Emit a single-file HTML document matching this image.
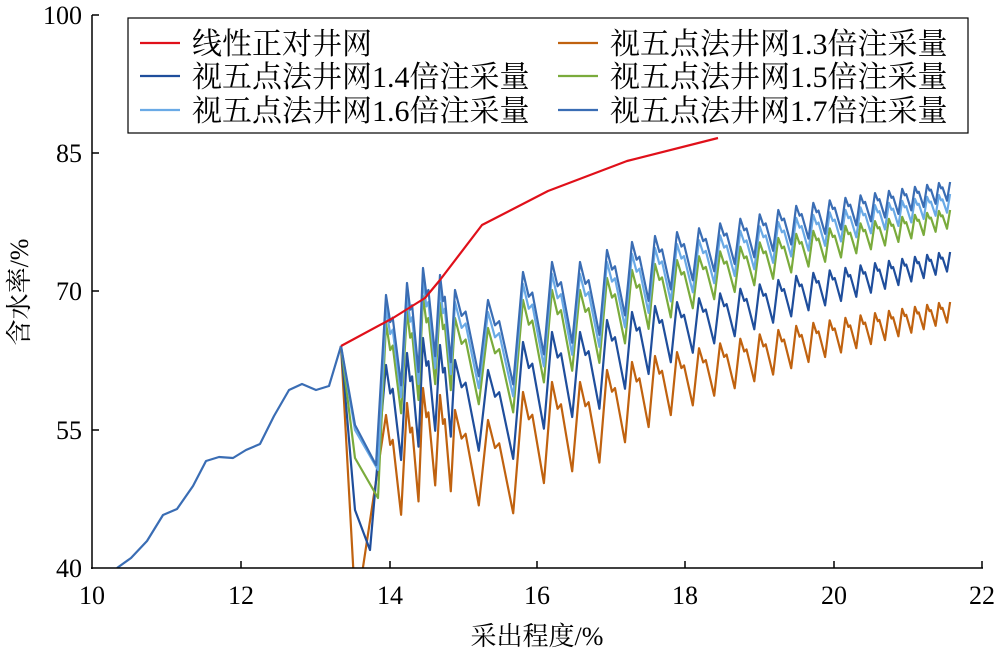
<!DOCTYPE html>
<html><head><meta charset="utf-8"><style>
body{margin:0;background:#fff}
svg text{font-family:"Liberation Serif","Noto Serif CJK SC",serif;font-size:26px;fill:#000}
svg text.lg{font-size:30px}
</style></head><body>
<svg id="s" width="1000" height="659" xmlns="http://www.w3.org/2000/svg">
<defs><clipPath id="c"><rect x="92" y="0" width="900" height="568"/></clipPath></defs>
<g id="series" clip-path="url(#c)" fill="none" stroke-width="2.2" stroke-linejoin="round"></g>
<line x1="92" y1="15" x2="92" y2="569" stroke="#000" stroke-width="1.5"/>
<line x1="91" y1="568" x2="983" y2="568" stroke="#000" stroke-width="1.5"/>
<g stroke="#000" stroke-width="1.5">
<line x1="92" y1="15" x2="99" y2="15"/><line x1="92" y1="153" x2="99" y2="153"/><line x1="92" y1="291" x2="99" y2="291"/><line x1="92" y1="430" x2="99" y2="430"/>
<line x1="241" y1="568" x2="241" y2="561"/><line x1="390" y1="568" x2="390" y2="561"/><line x1="537" y1="568" x2="537" y2="561"/><line x1="685" y1="568" x2="685" y2="561"/><line x1="834" y1="568" x2="834" y2="561"/><line x1="982" y1="568" x2="982" y2="561"/>
</g>
<g text-anchor="end">
<text x="82" y="24">100</text><text x="82" y="162">85</text><text x="82" y="300">70</text><text x="82" y="439">55</text><text x="82" y="577">40</text>
</g>
<g text-anchor="middle">
<text x="92" y="604">10</text><text x="241" y="604">12</text><text x="390" y="604">14</text><text x="537" y="604">16</text><text x="685" y="604">18</text><text x="834" y="604">20</text><text x="982" y="604">22</text>
<text x="537" y="645">采出程度/%</text>
<text transform="translate(28,292) rotate(-90)">含水率/%</text>
</g>
<rect x="128" y="18" width="840" height="115" fill="#fff" stroke="#000" stroke-width="1.2"/>
<g stroke-width="2.2">
<line x1="140" y1="43" x2="180" y2="43" stroke="#e0101a"/>
<line x1="140" y1="76" x2="180" y2="76" stroke="#1f4e9c"/>
<line x1="140" y1="110" x2="180" y2="110" stroke="#6aaae6"/>
<line x1="558" y1="43" x2="598" y2="43" stroke="#c0620f"/>
<line x1="558" y1="76" x2="598" y2="76" stroke="#7aab3c"/>
<line x1="558" y1="110" x2="598" y2="110" stroke="#3a6db4"/>
</g>
<text class="lg" x="192" y="54">线性正对井网</text>
<text class="lg" x="192" y="87">视五点法井网1.4倍注采量</text>
<text class="lg" x="192" y="121">视五点法井网1.6倍注采量</text>
<text class="lg" x="610" y="54">视五点法井网1.3倍注采量</text>
<text class="lg" x="610" y="87">视五点法井网1.5倍注采量</text>
<text class="lg" x="610" y="121">视五点法井网1.7倍注采量</text>
</svg>
<script>
var g=document.getElementById('series');
function path(pts,col){var p=document.createElementNS('http://www.w3.org/2000/svg','path');
p.setAttribute('d','M'+pts.map(function(a){return a[0].toFixed(1)+','+a[1].toFixed(1)}).join('L'));p.setAttribute('stroke',col);g.appendChild(p);}
function interp(an,x){if(x<=an[0][0])return an[0][1];for(var i=1;i<an.length;i++){if(x<=an[i][0]){var a=an[i-1],b=an[i];return a[1]+(b[1]-a[1])*(x-a[0])/(b[0]-a[0]);}}return an[an.length-1][1];}
var peaks=[386,407,423,440,455,488,523,552,580,607,632,655,677];
var x=677,p=22;while(x<945){x+=p;peaks.push(x);p=Math.max(11,22-(x-677)*11/268);}
var base=[[386,295],[407,283],[423,268],[440,275],[455,290],[488,300],[523,272],[552,262],[580,262],[607,250],[632,242],[655,236],[700,228],[800,205],[945,182]];
var amp=[[386,95],[552,85],[620,65],[700,45],[945,18]];
function series(off,aoff,drop,col){
 var pts=[[341,346],[355,drop[0]-40],[drop[1],drop[0]]];
 for(var i=0;i<peaks.length;i++){
  var xi=peaks[i],yp=interp(base,xi)+off,A=interp(amp,xi)*aoff;
  var nx=i+1<peaks.length?peaks[i+1]:xi+11, pp=nx-xi;
  pts.push([xi,yp]);
  if(i+1<peaks.length){pts.push([xi+0.2*pp,yp+0.3*A]);pts.push([xi+0.32*pp,yp+0.25*A]);pts.push([nx-0.28*pp,yp+A]);}
 }
 path(pts,col);
}
path([[117,568],[131,558],[147,541],[163,515],[177,509],[193,486],[206,461],[219,457],[233,458],[246,450],[260,444],[274,416],[289,390],[302,384],[316,390],[329,386],[341,346]],'#3a6db4');
series(120,1.05,[640,352],'#c0620f');
series(70,1.0,[550,370],'#1f4e9c');
series(28,0.95,[498,378],'#7aab3c');
series(12,0.95,[470,378],'#6aaae6');
series(0,0.95,[465,376],'#3a6db4');
path([[341,346],[393,318],[425,298],[440,280],[482,225],[548,191],[627,161],[718,138]],'#e0101a');
</script>
</body></html>
